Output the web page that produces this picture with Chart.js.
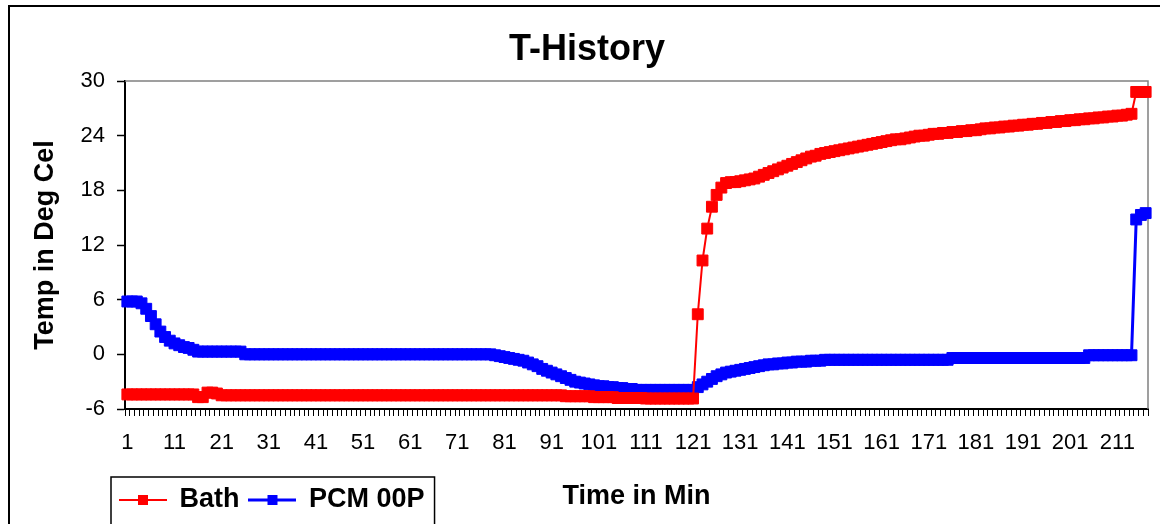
<!DOCTYPE html>
<html>
<head>
<meta charset="utf-8">
<script src="https://cdn.jsdelivr.net/npm/chart.js@4.4.1/dist/chart.umd.min.js"></script>
<style>
html, body { margin: 0; padding: 0; background: #fff; }
</style>
</head>
<body>
<canvas id="chart" width="1160" height="524"></canvas>
<script>
// minutes on the category axis
const minutes = [
  1,2,3,4,5,6,7,8,9,10,11,12,13,14,15,16,17,18,19,20,
  21,22,23,24,25,26,27,28,29,30,31,32,33,34,35,36,37,38,39,40,
  41,42,43,44,45,46,47,48,49,50,51,52,53,54,55,56,57,58,59,60,
  61,62,63,64,65,66,67,68,69,70,71,72,73,74,75,76,77,78,79,80,
  81,82,83,84,85,86,87,88,89,90,91,92,93,94,95,96,97,98,99,100,
  101,102,103,104,105,106,107,108,109,110,111,112,113,114,115,116,117,118,119,120,
  121,122,123,124,125,126,127,128,129,130,131,132,133,134,135,136,137,138,139,140,
  141,142,143,144,145,146,147,148,149,150,151,152,153,154,155,156,157,158,159,160,
  161,162,163,164,165,166,167,168,169,170,171,172,173,174,175,176,177,178,179,180,
  181,182,183,184,185,186,187,188,189,190,191,192,193,194,195,196,197,198,199,200,
  201,202,203,204,205,206,207,208,209,210,211,212,213,214,215,216,217
];

// bath temperature, deg C
const bath = [
  -4.4,-4.4,-4.4,-4.4,-4.4,-4.4,-4.4,-4.4,-4.4,-4.4,
  -4.4,-4.4,-4.4,-4.4,-4.4,-4.7,-4.7,-4.2,-4.2,-4.3,
  -4.5,-4.5,-4.5,-4.5,-4.5,-4.5,-4.5,-4.5,-4.5,-4.5,
  -4.5,-4.5,-4.5,-4.5,-4.5,-4.5,-4.5,-4.5,-4.5,-4.5,
  -4.5,-4.5,-4.5,-4.5,-4.5,-4.5,-4.5,-4.5,-4.5,-4.5,
  -4.5,-4.5,-4.5,-4.5,-4.5,-4.5,-4.5,-4.5,-4.5,-4.5,
  -4.5,-4.5,-4.5,-4.5,-4.5,-4.5,-4.5,-4.5,-4.5,-4.5,
  -4.5,-4.5,-4.5,-4.5,-4.5,-4.5,-4.5,-4.5,-4.5,-4.5,
  -4.5,-4.5,-4.5,-4.5,-4.5,-4.5,-4.5,-4.5,-4.5,-4.5,
  -4.5,-4.5,-4.5,-4.6,-4.6,-4.6,-4.6,-4.6,-4.6,-4.7,
  -4.7,-4.7,-4.7,-4.7,-4.8,-4.8,-4.8,-4.8,-4.8,-4.8,
  -4.85,-4.85,-4.85,-4.85,-4.85,-4.85,-4.85,-4.85,-4.85,-4.85,
  -4.85,4.4,10.3,13.8,16.2,17.5,18.3,18.8,18.9,18.9,
  19.0,19.1,19.2,19.3,19.5,19.7,19.9,20.1,20.3,20.5,
  20.7,20.9,21.1,21.3,21.5,21.7,21.8,22.0,22.1,22.2,
  22.3,22.4,22.5,22.6,22.7,22.8,22.9,23.0,23.1,23.2,
  23.3,23.4,23.5,23.6,23.6,23.7,23.8,23.9,24.0,24.0,
  24.1,24.2,24.2,24.3,24.3,24.4,24.4,24.5,24.5,24.6,
  24.6,24.7,24.8,24.8,24.9,24.9,25.0,25.0,25.1,25.1,
  25.2,25.2,25.3,25.3,25.4,25.4,25.5,25.5,25.6,25.6,
  25.7,25.7,25.8,25.8,25.9,25.9,26.0,26.0,26.1,26.1,
  26.2,26.2,26.3,26.4,28.8,28.8,28.8
];

// PCM 00P temperature, deg C
const pcm = [
  5.8,5.8,5.8,5.6,5.0,4.2,3.3,2.5,1.9,1.5,
  1.2,1.0,0.8,0.7,0.5,0.3,0.3,0.3,0.3,0.3,
  0.3,0.3,0.3,0.3,0.3,0,0,0,0,0,
  0,0,0,0,0,0,0,0,0,0,
  0,0,0,0,0,0,0,0,0,0,
  0,0,0,0,0,0,0,0,0,0,
  0,0,0,0,0,0,0,0,0,0,
  0,0,0,0,0,0,0,0,-0.1,-0.2,
  -0.3,-0.4,-0.5,-0.6,-0.7,-0.9,-1.1,-1.3,-1.6,-1.8,
  -2.0,-2.2,-2.4,-2.6,-2.8,-3.0,-3.1,-3.2,-3.3,-3.4,
  -3.5,-3.5,-3.6,-3.6,-3.7,-3.7,-3.8,-3.8,-3.9,-3.9,
  -3.9,-3.9,-3.9,-3.9,-3.9,-3.9,-3.9,-3.9,-3.9,-3.9,
  -3.9,-3.6,-3.3,-3.0,-2.7,-2.4,-2.2,-2.0,-1.9,-1.8,
  -1.7,-1.6,-1.5,-1.4,-1.3,-1.2,-1.1,-1.1,-1.0,-1.0,
  -0.9,-0.9,-0.8,-0.8,-0.8,-0.7,-0.7,-0.7,-0.6,-0.6,
  -0.6,-0.6,-0.6,-0.6,-0.6,-0.6,-0.6,-0.6,-0.6,-0.6,
  -0.6,-0.6,-0.6,-0.6,-0.6,-0.6,-0.6,-0.6,-0.6,-0.6,
  -0.6,-0.6,-0.6,-0.6,-0.6,-0.4,-0.4,-0.4,-0.4,-0.4,
  -0.4,-0.4,-0.4,-0.4,-0.4,-0.4,-0.4,-0.4,-0.4,-0.4,
  -0.4,-0.4,-0.4,-0.4,-0.4,-0.4,-0.4,-0.4,-0.4,-0.4,
  -0.4,-0.4,-0.4,-0.4,-0.1,-0.1,-0.1,-0.1,-0.1,-0.1,
  -0.1,-0.1,-0.1,-0.1,14.8,15.3,15.5
];

// labels actually printed under the x axis
const shownTicks = ['1','11','21','31','41','51','61','71','81','91','101','111','121','131','141','151','161','171','181','191','201','211'];
const yTicks = [-6, 0, 6, 12, 18, 24, 30];

const FONT = "'Liberation Sans', Arial, sans-serif";
const RED = '#ff0000';
const BLUE = '#0000ff';

// excel style legend key: line with a square marker in the middle
function legendKey(color, width) {
    const c = document.createElement('canvas');
    c.width = 48;
    c.height = 14;
    const g = c.getContext('2d');
    g.strokeStyle = color;
    g.lineWidth = width;
    g.beginPath();
    g.moveTo(0, 7);
    g.lineTo(48, 7);
    g.stroke();
    g.fillStyle = color;
    g.fillRect(19, 2, 10, 10);
    return c;
}
const keys = [legendKey(RED, 2), legendKey(BLUE, 3)];

// plot area border (grey top/right), outer chart border, legend box
const frame = {
    id: 'frame',
    afterLayout(chart) {
        // legend sits on the same row as the x axis title, bottom left
        const lg = chart.legend;
        lg.left = 110;
        lg.top = 476.5;
        lg.right = 1160;
        lg.bottom = 524;
    },
    beforeDatasetsDraw(chart) {
        const {ctx, chartArea: a} = chart;
        ctx.save();
        ctx.strokeStyle = '#808080';
        ctx.lineWidth = 1.5;
        ctx.beginPath();
        ctx.moveTo(a.left, a.top);
        ctx.lineTo(a.right, a.top);
        ctx.lineTo(a.right, a.bottom);
        ctx.stroke();
        ctx.restore();
    },
    afterDraw(chart) {
        const ctx = chart.ctx;
        ctx.save();
        ctx.strokeStyle = '#000';
        ctx.lineWidth = 2;
        ctx.beginPath();
        ctx.moveTo(9, 524);
        ctx.lineTo(9, 6);
        ctx.lineTo(1160, 6);
        ctx.stroke();

        const hb = chart.legend.legendHitBoxes;
        if (hb && hb.length) {
            const last = hb[hb.length - 1];
            const l = 111, t = 477;
            const r = last.left + last.width + 10;
            ctx.lineWidth = 1.5;
            ctx.strokeRect(l, t, r - l, 60);
        }
        ctx.restore();
    }
};

new Chart(document.getElementById('chart'), {
    type: 'line',
    data: {
        labels: minutes,
        datasets: [
            {label: 'Bath', data: bath, borderColor: RED, backgroundColor: RED,
             borderWidth: 2, pointStyle: 'rect', pointRadius: 7.7, pointBorderWidth: 1, clip: 4},
            {label: 'PCM 00P', data: pcm, borderColor: BLUE, backgroundColor: BLUE,
             borderWidth: 3, pointStyle: 'rect', pointRadius: 7.7, pointBorderWidth: 1, clip: 4}
        ]
    },
    options: {
        responsive: false,
        animation: false,
        devicePixelRatio: 1,
        layout: {padding: {left: 26, right: 12, top: 6, bottom: 0}},
        scales: {
            x: {
                offset: true,
                afterFit: s => { s.height = 114; },
                grid: {offset: true, drawOnChartArea: false, drawTicks: true, tickLength: 7, tickColor: '#000', tickWidth: 1},
                border: {display: true, color: '#000', width: 2},
                ticks: {
                    autoSkip: false, maxRotation: 0, minRotation: 0, padding: 14, color: '#000',
                    font: {family: FONT, size: 22},
                    callback: function(v) {
                        const lab = String(this.getLabelForValue(v));
                        return shownTicks.includes(lab) ? lab : '';
                    }
                },
                title: {display: true, text: 'Time in Min', color: '#000',
                        font: {family: FONT, size: 27, weight: 'bold'}, padding: {top: 0, bottom: 9.8}}
            },
            y: {
                min: yTicks[0],
                max: yTicks[yTicks.length - 1],
                afterFit: s => { s.width = 99; },
                grid: {drawOnChartArea: false, drawTicks: true, tickLength: 8, tickColor: '#000', tickWidth: 1.5},
                border: {display: true, color: '#000', width: 2},
                ticks: {stepSize: 6, padding: 12, color: '#000', font: {family: FONT, size: 22}},
                title: {display: true, text: 'Temp in Deg Cel', color: '#000',
                        font: {family: FONT, size: 27, weight: 'bold'}, padding: {top: 3.8, bottom: 0}}
            }
        },
        plugins: {
            title: {display: true, text: 'T-History', color: '#000',
                    font: {family: FONT, size: 36, weight: 'bold'}, padding: {top: 22, bottom: 9.8}},
            legend: {
                position: 'bottom',
                align: 'start',
                maxHeight: 1,
                labels: {
                    usePointStyle: true,
                    pointStyleWidth: 46,
                    padding: 10,
                    color: '#000',
                    font: {family: FONT, size: 27, weight: 'bold'},
                    generateLabels(chart) {
                        const items = Chart.defaults.plugins.legend.labels.generateLabels(chart);
                        items.forEach((it, i) => { it.pointStyle = keys[i]; });
                        return items;
                    }
                }
            },
            tooltip: {enabled: false}
        }
    },
    plugins: [frame]
});
</script>
</body>
</html>
